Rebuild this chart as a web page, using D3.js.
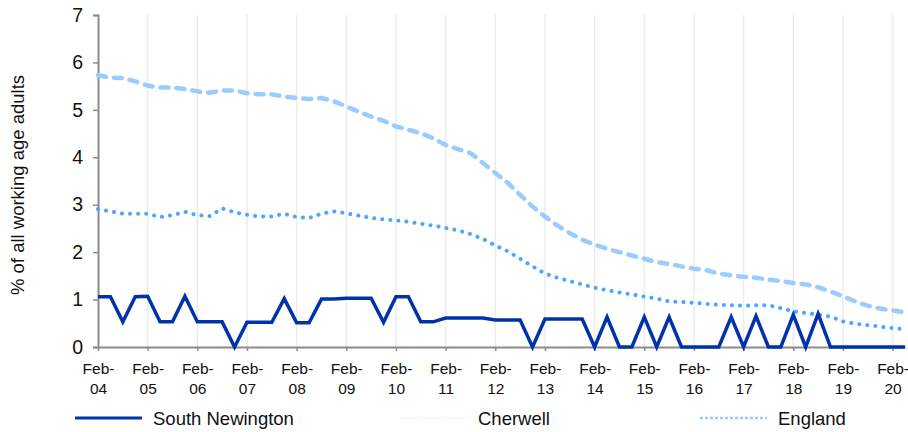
<!DOCTYPE html>
<html>
<head>
<meta charset="utf-8">
<script src="https://cdn.jsdelivr.net/npm/d3@7/dist/d3.min.js"></script>
<style>
  html, body { margin: 0; padding: 0; background: #fff; }
  svg { display: block; font-family: "Liberation Sans", Arial, sans-serif; }
</style>
</head>
<body>
<svg id="chart" width="908" height="432"></svg>
<script>
// ---- Data ----
const months = ["Feb", "May", "Aug", "Nov"];
const years = ["04","05","06","07","08","09","10","11","12","13","14","15","16","17","18","19","20"];
const categories = [];
years.forEach(y => months.forEach(m => categories.push(m + "-" + y)));
categories.length = 66; // Feb-04 .. May-20

const southNewington = [
  1.06, 1.06, 0.53, 1.06, 1.07, 0.53, 0.53, 1.07, 0.53, 0.53, 0.53, 0.00,
  0.52, 0.52, 0.52, 1.02, 0.51, 0.51, 1.01, 1.01, 1.03, 1.03, 1.03, 0.52,
  1.06, 1.06, 0.53, 0.53, 0.61, 0.61, 0.61, 0.61, 0.57, 0.57, 0.57, 0.00,
  0.59, 0.59, 0.59, 0.59, 0.00, 0.63, 0.00, 0.00, 0.63, 0.00, 0.63, 0.00,
  0.00, 0.00, 0.00, 0.63, 0.00, 0.65, 0.00, 0.00, 0.68, 0.00, 0.70, 0.00,
  0.00, 0.00, 0.00, 0.00, 0.00, 0.00
];
const cherwell = [
  2.91, 2.86, 2.81, 2.81, 2.81, 2.74, 2.78, 2.85, 2.78, 2.76, 2.92, 2.84,
  2.79, 2.75, 2.75, 2.81, 2.74, 2.72, 2.81, 2.86, 2.82, 2.77, 2.72, 2.69,
  2.67, 2.64, 2.60, 2.56, 2.51, 2.46, 2.38, 2.28, 2.14, 2.02, 1.86, 1.70,
  1.55, 1.46, 1.39, 1.32, 1.25, 1.20, 1.15, 1.11, 1.06, 1.02, 0.96, 0.95,
  0.93, 0.91, 0.89, 0.88, 0.87, 0.88, 0.88, 0.82, 0.75, 0.72, 0.68, 0.64,
  0.54, 0.49, 0.46, 0.43, 0.40, 0.37
];
const england = [
  5.73, 5.68, 5.67, 5.60, 5.51, 5.47, 5.47, 5.44, 5.39, 5.36, 5.41, 5.41,
  5.35, 5.33, 5.33, 5.28, 5.25, 5.23, 5.25, 5.18, 5.07, 4.96, 4.86, 4.77,
  4.65, 4.58, 4.51, 4.40, 4.26, 4.17, 4.09, 3.88, 3.67, 3.46, 3.21, 2.96,
  2.75, 2.56, 2.40, 2.26, 2.16, 2.07, 2.00, 1.93, 1.86, 1.79, 1.75, 1.70,
  1.65, 1.62, 1.55, 1.51, 1.48, 1.46, 1.42, 1.39, 1.35, 1.32, 1.26, 1.17,
  1.07, 0.96, 0.87, 0.81, 0.77, 0.73
];
const yTicks = [0, 1, 2, 3, 4, 5, 6, 7];
const seriesNames = ["South Newington", "Cherwell", "England"];

// ---- Layout ----
const svg = d3.select("#chart");
const pLeft = 98, pRight = 905, pTop = 15, pBottom = 347;

const x = d3.scalePoint().domain(categories).range([pLeft, pRight]);
const y = d3.scaleLinear().domain([0, 7]).range([pBottom, pTop]);

const axisColor = "#8c8c8c";
const febTicks = categories.filter(c => c.startsWith("Feb"));

// vertical gridlines
svg.append("g").selectAll("line")
  .data(febTicks.slice(1))
  .join("line")
  .attr("x1", d => x(d)).attr("x2", d => x(d))
  .attr("y1", pTop).attr("y2", pBottom)
  .attr("stroke", "#ececec").attr("stroke-width", 1.5);

// y axis
const yAxis = svg.append("g")
  .attr("transform", `translate(${pLeft},0)`)
  .call(d3.axisLeft(y).tickValues(yTicks).tickSize(5).tickPadding(10).tickFormat(d3.format("d")));
yAxis.select(".domain").attr("stroke", axisColor).attr("stroke-width", 2);
yAxis.selectAll(".tick line").attr("stroke", axisColor).attr("stroke-width", 1.5);
yAxis.selectAll(".tick text").attr("font-size", 19.5).attr("fill", "#111")
  .attr("font-family", "Liberation Sans, Arial, sans-serif");

// x axis
const xAxis = svg.append("g")
  .attr("transform", `translate(0,${pBottom})`)
  .call(d3.axisBottom(x).tickValues(febTicks).tickSize(4).tickSizeOuter(0).tickFormat(() => ""));
xAxis.select(".domain").attr("stroke", axisColor).attr("stroke-width", 2);
xAxis.selectAll(".tick line").attr("stroke", axisColor).attr("stroke-width", 1.5);
xAxis.selectAll(".tick text").each(function(d) {
  const t = d3.select(this);
  const [m, yr] = d.split("-");
  t.attr("font-size", 15.5).attr("fill", "#111")
   .attr("font-family", "Liberation Sans, Arial, sans-serif").attr("y", 0).attr("dy", null);
  t.append("tspan").attr("x", 0).attr("y", 27).text(m + "-");
  t.append("tspan").attr("x", 0).attr("y", 47).text(yr);
});

// y axis title
svg.append("text")
  .attr("transform", `translate(24,${(pTop + pBottom) / 2 + 4}) rotate(-90)`)
  .attr("text-anchor", "middle")
  .attr("font-size", 18.5).attr("fill", "#111")
  .text("% of all working age adults");

// lines
const line = d3.line().x((d, i) => x(categories[i])).y(d => y(d));

svg.append("path").datum(england)
  .attr("fill", "none").attr("stroke", "#99ccff").attr("stroke-width", 4.5)
  .attr("stroke-dasharray", "8 8").attr("stroke-linecap", "round").attr("stroke-linejoin", "round")
  .attr("d", line);

svg.append("path").datum(cherwell)
  .attr("fill", "none").attr("stroke", "#4da6ff").attr("stroke-width", 4)
  .attr("stroke-dasharray", "0.1 8").attr("stroke-linecap", "round")
  .attr("d", line);

svg.append("path").datum(southNewington)
  .attr("fill", "none").attr("stroke", "#0033aa").attr("stroke-width", 3.5)
  .attr("stroke-linejoin", "miter")
  .attr("d", line);

// legend
const legendY = 418;
const legendItems = [
  { name: seriesNames[0], x: 75, stroke: "#0033aa", w: 3, dash: null, cap: "butt" },
  { name: seriesNames[1], x: 400, stroke: "#cfe6ff", w: 1.5, dash: "1 2", cap: "butt" },
  { name: seriesNames[2], x: 700, stroke: "#99ccff", w: 2.5, dash: "3 2", cap: "butt" }
];
const lg = svg.append("g").selectAll("g").data(legendItems).join("g")
  .attr("transform", d => `translate(${d.x},${legendY})`);
lg.append("line").attr("x1", 0).attr("x2", 67).attr("y1", 0).attr("y2", 0)
  .attr("stroke", d => d.stroke).attr("stroke-width", d => d.w)
  .attr("stroke-dasharray", d => d.dash).attr("stroke-linecap", d => d.cap);
lg.append("text").attr("x", 78).attr("y", 6.5)
  .attr("font-size", 18.5).attr("fill", "#111")
  .text(d => d.name);
</script>
</body>
</html>
